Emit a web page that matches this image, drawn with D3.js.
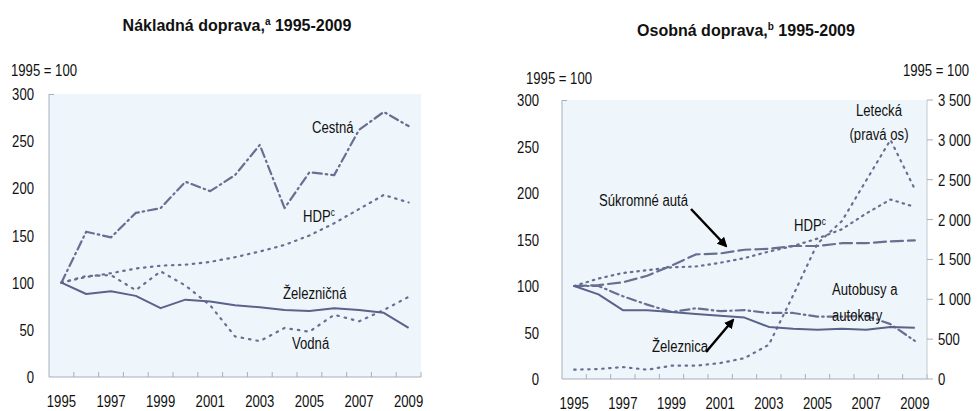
<!DOCTYPE html>
<html lang="sk">

<head>
  <meta charset="UTF-8">
  <title>Doprava 1995-2009</title>
  <style>
    body { margin: 0; background: #fff; }
    text { font-family: "Liberation Sans", Arial, sans-serif; fill: #111; }
  </style>
</head>

<body>
  <svg width="978" height="411"></svg>
  <script src="https://cdn.jsdelivr.net/npm/d3@7/dist/d3.min.js"></script>
  <script>
    // roky
    var years = [1995, 1996, 1997, 1998, 1999, 2000, 2001, 2002, 2003, 2004, 2005, 2006, 2007, 2008, 2009]
    var yearLabels = [1995, 1997, 1999, 2001, 2003, 2005, 2007, 2009]
    var leftTicks = [0, 50, 100, 150, 200, 250, 300]
    var rightTicks = [0, 500, 1000, 1500, 2000, 2500, 3000, 3500]

    // Nákladná doprava (1995 = 100)
    var cestna = [100, 154, 148, 174, 179, 207, 197, 214, 246, 179, 217, 214, 262, 281, 266]
    var hdpNakl = [100, 106, 110, 115, 118, 119, 122, 127, 133, 140, 150, 163, 178, 193, 185]
    var vodna = [100, 107, 108, 92, 112, 97, 76, 43, 38, 52, 48, 66, 59, 71, 85]
    var zeleznicna = [100, 88, 91, 86, 73, 82, 80, 76, 74, 71, 70, 73, 71, 68, 52]

    // Osobná doprava (1995 = 100)
    var sukromne = [100, 101, 104, 111, 122, 134, 135, 139, 140, 143, 143, 146, 146, 148, 149]
    var hdpOsob = [100, 108, 114, 117, 120, 121, 125, 130, 137, 143, 151, 161, 178, 193, 185]
    var autobusy = [100, 100, 89, 80, 72, 76, 73, 74, 71, 71, 67, 67, 68, 59, 41]
    var zeleznica = [100, 91, 74, 74, 72, 70, 68, 66, 56, 54, 53, 54, 53, 56, 55]
    // Letecká, pravá os
    var letecka = [117, 125, 150, 117, 167, 167, 200, 262, 430, 1050, 1700, 1980, 2490, 3000, 2380]

    var svg = d3.select("svg")
    var lineColor = "#686f91"
    var solidColor = "#5b628c"
    var narrow = 0.82 // písmo je v origináli zúžené

    var defs = svg.append("defs")
    defs.append("marker")
      .attr("id", "arrow")
      .attr("viewBox", "0 0 10 10")
      .attr("refX", 8)
      .attr("refY", 5)
      .attr("markerWidth", 4)
      .attr("markerHeight", 4)
      .attr("orient", "auto")
      .append("path")
      .attr("d", "M0,0 L10,5 L0,10 z")
      .attr("fill", "#000")

    // zúžený text: posun + horizontálne zmenšenie
    function txt(parent, x, y, str, anchor, sup) {
      var t = parent.append("text")
        .attr("transform", "translate(" + x + "," + y + ") scale(" + narrow + ",1)")
        .attr("text-anchor", anchor || "start")
        .style("font-size", "16px")
        .text(str)
      if (sup) {
        t.append("tspan")
          .attr("dy", -6)
          .style("font-size", "10px")
          .text(sup)
      }
      return t
    }

    function drawPanel(left, right, top, bottom) {
      var g = svg.append("g")
      g.append("rect")
        .attr("x", left)
        .attr("y", top)
        .attr("width", right - left)
        .attr("height", bottom - top)
        .attr("fill", "#eff6fb")

      var x = d3.scaleBand().domain(years).range([left, right])
      var y = d3.scaleLinear().domain([0, 300]).range([bottom, top])

      // osi
      g.append("line")
        .attr("x1", left).attr("x2", left)
        .attr("y1", top).attr("y2", bottom)
        .attr("stroke", "#a9aebb").attr("stroke-width", 1)
      g.append("line")
        .attr("x1", left).attr("x2", left + 5)
        .attr("y1", top + 0.5).attr("y2", top + 0.5)
        .attr("stroke", "#a9aebb")
      g.append("line")
        .attr("x1", left).attr("x2", right)
        .attr("y1", bottom).attr("y2", bottom)
        .attr("stroke", "#a9aebb").attr("stroke-width", 1.2)

      // zarážky medzi rokmi
      g.append("g")
        .selectAll("line")
        .data(years.slice(1).concat(["end"]))
        .enter()
        .append("line")
        .attr("x1", function (d) { return d == "end" ? right : x(d) })
        .attr("x2", function (d) { return d == "end" ? right : x(d) })
        .attr("y1", bottom)
        .attr("y2", bottom - 5)
        .attr("stroke", "#a9aebb")

      yearLabels.forEach(function (d) {
        txt(g, x(d) + x.bandwidth() / 2, bottom + 30, d, "middle")
      })

      return { g: g, x: x, y: y }
    }

    function drawLine(p, values, yScale, dash, color, width) {
      var line = d3.line()
        .x(function (d, i) { return p.x(years[i]) + p.x.bandwidth() / 2 })
        .y(function (d) { return yScale(d) })
      p.g.append("path")
        .datum(values)
        .attr("d", line)
        .attr("fill", "none")
        .attr("stroke", color || lineColor)
        .attr("stroke-width", width || 2.2)
        .attr("stroke-dasharray", dash)
        .attr("stroke-linecap", dash ? "round" : "butt")
        .attr("stroke-linejoin", "round")
    }

    function title(x, y, main, sup) {
      var t = svg.append("text")
        .attr("x", x)
        .attr("y", y)
        .attr("text-anchor", "middle")
        .style("font-size", "16px")
        .style("font-weight", "bold")
        .text(main)
      t.append("tspan").attr("dy", -6).style("font-size", "10px").text(sup)
      t.append("tspan").attr("dy", 6).text(" 1995-2009")
    }

    // ---------- ľavý graf ----------
    var pL = drawPanel(49, 421, 94, 377)

    leftTicks.forEach(function (d) {
      txt(pL.g, 34, pL.y(d) + 6, d, "end")
    })

    drawLine(pL, hdpNakl, pL.y, "1.5,5.5")
    drawLine(pL, vodna, pL.y, "1.5,6")
    drawLine(pL, cestna, pL.y, "9,4,1.5,4")
    drawLine(pL, zeleznicna, pL.y, null, solidColor, 2)

    title(237, 31, "Nákladná doprava,", "a")

    txt(svg, 11, 76, "1995 = 100")
    txt(svg, 312, 133, "Cestná")
    txt(svg, 303, 222, "HDP", null, "c")
    txt(svg, 283, 299, "Železničná")
    txt(svg, 292, 349, "Vodná")

    // ---------- pravý graf ----------
    var pR = drawPanel(562, 927, 100, 379)
    var yR = d3.scaleLinear().domain([0, 3500]).range([379, 100])

    pR.g.append("line")
      .attr("x1", 927).attr("x2", 927)
      .attr("y1", 100).attr("y2", 379)
      .attr("stroke", "#c4c8d2")

    leftTicks.forEach(function (d) {
      txt(pR.g, 539, pR.y(d) + 6, d, "end")
    })

    rightTicks.forEach(function (d) {
      pR.g.append("line")
        .attr("x1", 927).attr("x2", 933)
        .attr("y1", yR(d)).attr("y2", yR(d))
        .attr("stroke", "#a9aebb")
      txt(pR.g, 938, yR(d) + 6, d3.format(",")(d).replace(",", " "))
    })

    drawLine(pR, letecka, yR, "1.5,5.5")
    drawLine(pR, hdpOsob, pR.y, "1.5,5")
    drawLine(pR, autobusy, pR.y, "9,4,1.5,4")
    drawLine(pR, sukromne, pR.y, "12,5")
    drawLine(pR, zeleznica, pR.y, null, solidColor, 2)

    title(746, 36, "Osobná doprava,", "b")

    txt(svg, 526, 84, "1995 = 100")
    txt(svg, 969, 76, "1995 = 100", "end")
    txt(svg, 879, 116, "Letecká", "middle")
    txt(svg, 879, 140, "(pravá os)", "middle")
    txt(svg, 599, 206, "Súkromné autá")
    txt(svg, 794, 231, "HDP", null, "c")
    txt(svg, 832, 295, "Autobusy a")
    txt(svg, 832, 321, "autokary")
    txt(svg, 652, 352, "Železnica")

    // šípky
    svg.append("line")
      .attr("x1", 691).attr("y1", 209)
      .attr("x2", 726).attr("y2", 246)
      .attr("stroke", "#000").attr("stroke-width", 2.5)
      .attr("marker-end", "url(#arrow)")
    svg.append("line")
      .attr("x1", 706).attr("y1", 352)
      .attr("x2", 733).attr("y2", 320)
      .attr("stroke", "#000").attr("stroke-width", 2.5)
      .attr("marker-end", "url(#arrow)")
  </script>
</body>

</html>
